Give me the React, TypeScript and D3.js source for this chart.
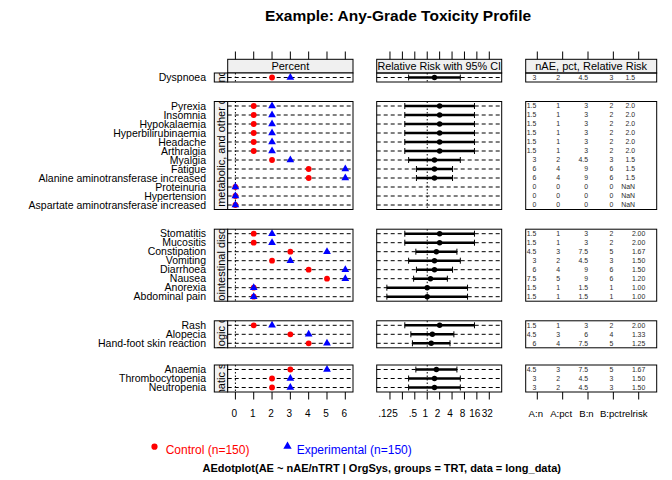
import React from "react";
import * as d3 from "d3";

const chartTitle = "Example: Any-Grade Toxicity Profile";
const caption = "AEdotplot(AE ~ nAE/nTRT | OrgSys, groups = TRT, data = long_data)";
const groupLabels = ["Control (n=150)", "Experimental (n=150)"];
const panelHeaders = ["Percent", "Relative Risk with 95% CI", "nAE, pct, Relative Risk"];

const socNames = [
  "Respiratory, thoracic and mediastinal disorders",
  "General, metabolic, and other disorders",
  "Gastrointestinal disorders",
  "Dermatologic disorders",
  "Blood and lymphatic system disorders",
];

const aeTerms = [
  "Dyspnoea",
  "Pyrexia", "Insomnia", "Hypokalaemia", "Hyperbilirubinaemia", "Headache", "Arthralgia",
  "Myalgia", "Fatigue", "Alanine aminotransferase increased", "Proteinuria", "Hypertension",
  "Aspartate aminotransferase increased",
  "Stomatitis", "Mucositis", "Constipation", "Vomiting", "Diarrhoea", "Nausea", "Anorexia",
  "Abdominal pain",
  "Rash", "Alopecia", "Hand-foot skin reaction",
  "Anaemia", "Thrombocytopenia", "Neutropenia",
];
const aeSoc = [0, 1, 1, 1, 1, 1, 1, 1, 1, 1, 1, 1, 1, 2, 2, 2, 2, 2, 2, 2, 2, 3, 3, 3, 4, 4, 4];

const nA = [3, 1.5, 1.5, 1.5, 1.5, 1.5, 1.5, 3, 6, 6, 0, 0, 0, 1.5, 1.5, 4.5, 3, 6, 7.5, 1.5, 1.5, 1.5, 4.5, 6, 4.5, 3, 3];
const pctA = [2, 1, 1, 1, 1, 1, 1, 2, 4, 4, 0, 0, 0, 1, 1, 3, 2, 4, 5, 1, 1, 1, 3, 4, 3, 2, 2];
const nB = [4.5, 3, 3, 3, 3, 3, 3, 4.5, 9, 9, 0, 0, 0, 3, 3, 7.5, 4.5, 9, 9, 1.5, 1.5, 3, 6, 7.5, 7.5, 4.5, 4.5];
const pctB = [3, 2, 2, 2, 2, 2, 2, 3, 6, 6, 0, 0, 0, 2, 2, 5, 3, 6, 6, 1, 1, 2, 4, 5, 5, 3, 3];
const relRisk = [1.5, 2, 2, 2, 2, 2, 2, 1.5, 1.5, 1.5, NaN, NaN, NaN, 2, 2, 1.667, 1.5, 1.5, 1.2, 1, 1, 2, 1.333, 1.25, 1.667, 1.5, 1.5];
const rrLower = [0.354, 0.286, 0.286, 0.286, 0.286, 0.286, 0.286, 0.354, 0.548, 0.548, NaN, NaN, NaN, 0.286, 0.286, 0.53, 0.354, 0.548, 0.468, 0.105, 0.105, 0.286, 0.401, 0.438, 0.53, 0.354, 0.354];
const rrUpper = [6.35, 14, 14, 14, 14, 14, 14, 6.35, 4.11, 4.11, NaN, NaN, NaN, 14, 14, 5.25, 6.35, 4.11, 3.08, 9.5, 9.5, 14, 4.43, 3.57, 5.25, 6.35, 6.35];

const pctTicks = [0, 1, 2, 3, 4, 5, 6];
const rrTicks = [0.125, 0.25, 0.5, 1, 2, 4, 8, 16, 32];
const rrTickLabels = [".125", "", ".5", "1", "2", "4", "8", "16", "32"];
const tableCols = [1, 2, 3, 4, 5];
const tableColLabels = ["A:n", "A:pct", "B:n", "B:pct", "relrisk"];

const RED = "#ff0000";
const BLUE = "#0000ff";
const STRIP = "#f0f0f0";
const FONT = "'Liberation Sans', Arial, sans-serif";
const NARROW = "'Liberation Sans Narrow', 'Arial Narrow', 'Liberation Sans', Arial, sans-serif";

export default function App() {
  const W = 672, H = 480;
  const pctL = 227.7, pctR = 353;
  const rrL = 376.7, rrR = 501.7;
  const tabL = 525.7, tabR = 656.7;
  const stripL = 214.3;
  const headTop = 59.3, headBot = 73;
  const panelTop = [73, 101.5, 229.2, 320.8, 365];
  const rowH = 9;

  const xPct = d3.scaleLinear().domain([-0.42, 6.42]).range([pctL, pctR]);
  const xRR = d3.scaleLog().base(2).domain([Math.pow(2, -4.07), 64]).range([rrL, rrR]);
  const xTab = d3.scaleLinear().domain([0.542, 5.71]).range([tabL, tabR]);

  const panels = socNames.map((name, s) => {
    const idx = aeTerms.map((_, i) => i).filter((i) => aeSoc[i] === s);
    const top = panelTop[s];
    const bottom = top + idx.length * rowH;
    const y = d3.scalePoint<number>().domain(idx).range([top, bottom]).padding(0.5);
    const twoDec = idx.some((i) => isFinite(relRisk[i]) && Math.abs(relRisk[i] * 10 - Math.round(relRisk[i] * 10)) > 1e-6);
    return { name, s, idx, top, bottom, y, twoDec };
  });
  const lastBottom = panels[panels.length - 1].bottom;

  const tri = d3.symbol().type(d3.symbolTriangle).size(26)();
  const triLeg = d3.symbol().type(d3.symbolTriangle).size(30)();

  const colDx = [-1, -2.5, 0, 0];
  const labDx = [-1.5, -1.5, -1.5, -2.5, -4];

  return (
    <svg width={W} height={H} style={{ position: "absolute", left: 0, top: 0, display: "block", background: "#fff" }} fontFamily={FONT}>
      <defs>
        {panels.map((p) => (
          <clipPath id={`strip${p.s}`} key={p.s}>
            <rect x={stripL} y={p.top} width={pctL - stripL} height={p.bottom - p.top} />
          </clipPath>
        ))}
      </defs>
      <text x={398} y={20.5} textAnchor="middle" fontSize={15.5} fontWeight="bold">{chartTitle}</text>

      {/* header strips */}
      {[[pctL, pctR], [rrL, rrR], [tabL, tabR]].map(([l, r], k) => (
        <g key={`h${k}`}>
          <rect x={l} y={headTop} width={r - l} height={headBot - headTop} fill={STRIP} stroke="#000" strokeWidth={1} />
          <text x={(l + r) / 2} y={headBot - 3} textAnchor="middle" fontSize={k === 1 ? 10.8 : 11}>{panelHeaders[k]}</text>
        </g>
      ))}

      {/* top ticks */}
      {pctTicks.map((t) => (
        <line key={`tp${t}`} x1={xPct(t)} x2={xPct(t)} y1={51.5} y2={headTop} stroke="#000" />
      ))}
      {rrTicks.map((t) => (
        <line key={`tr${t}`} x1={xRR(t)} x2={xRR(t)} y1={51.5} y2={headTop} stroke="#000" />
      ))}
      {tableCols.map((t) => (
        <line key={`tt${t}`} x1={xTab(t)} x2={xTab(t)} y1={51.5} y2={headTop} stroke="#000" />
      ))}

      {panels.map((p) => (
        <g key={`p${p.s}`}>
          {/* left strip */}
          <rect x={stripL} y={p.top} width={pctL - stripL} height={p.bottom - p.top} fill={STRIP} stroke="#000" />
          <g clipPath={`url(#strip${p.s})`}>
            <text transform={`translate(${225},${(p.top + p.bottom) / 2}) rotate(-90)`} textAnchor="middle" fontSize={11}>{p.name}</text>
          </g>

          {/* row labels */}
          {p.idx.map((i) => (
            <text key={`l${i}`} x={206} y={(p.y(i) as number) + 3.7} textAnchor="end" fontSize={10.5}>{aeTerms[i]}</text>
          ))}

          {/* percent panel */}
          <rect x={pctL} y={p.top} width={pctR - pctL} height={p.bottom - p.top} fill="#fff" stroke="none" />
          {p.idx.map((i) => (
            <line key={`d${i}`} x1={pctL} x2={pctR} y1={p.y(i)} y2={p.y(i)} stroke="#000" strokeDasharray="4,3" />
          ))}
          <line x1={xPct(0)} x2={xPct(0)} y1={p.top} y2={p.bottom} stroke="#000" strokeDasharray="1.5,2" />
          {p.idx.map((i) => (
            <circle key={`a${i}`} cx={xPct(pctA[i])} cy={p.y(i)} r={2.9} fill={RED} />
          ))}
          {p.idx.map((i) => (
            <path key={`b${i}`} d={tri || ""} transform={`translate(${xPct(pctB[i])},${p.y(i)})`} fill={BLUE} />
          ))}
          <rect x={pctL} y={p.top} width={pctR - pctL} height={p.bottom - p.top} fill="none" stroke="#000" />

          {/* RR panel */}
          {p.idx.map((i) => (
            <line key={`rd${i}`} x1={rrL} x2={rrR} y1={p.y(i)} y2={p.y(i)} stroke="#000" strokeDasharray="4,3" />
          ))}
          <line x1={xRR(1)} x2={xRR(1)} y1={p.top} y2={p.bottom} stroke="#000" strokeDasharray="1.5,2" />
          {p.idx.filter((i) => isFinite(relRisk[i])).map((i) => {
            const yy = p.y(i) as number;
            return (
              <g key={`ci${i}`}>
                <line x1={xRR(rrLower[i])} x2={xRR(rrUpper[i])} y1={yy} y2={yy} stroke="#000" strokeWidth={2.6} />
                <line x1={xRR(rrLower[i])} x2={xRR(rrLower[i])} y1={yy - 3} y2={yy + 3} stroke="#000" strokeWidth={1} />
                <line x1={xRR(rrUpper[i])} x2={xRR(rrUpper[i])} y1={yy - 3} y2={yy + 3} stroke="#000" strokeWidth={1} />
                <circle cx={xRR(relRisk[i])} cy={yy} r={2.7} fill="#000" />
              </g>
            );
          })}
          <rect x={rrL} y={p.top} width={rrR - rrL} height={p.bottom - p.top} fill="none" stroke="#000" />

          {/* table panel */}
          <rect x={tabL} y={p.top} width={tabR - tabL} height={p.bottom - p.top} fill="none" stroke="#000" />
          {p.idx.map((i) => {
            const yy = (p.y(i) as number) + 2.4;
            const vals = [nA[i], pctA[i], nB[i], pctB[i]];
            const rrText = isNaN(relRisk[i]) ? "NaN" : relRisk[i].toFixed(p.twoDec ? 2 : 1);
            return (
              <g key={`t${i}`} fontFamily={NARROW} fontSize={6.9} fill="#2b2b2b">
                {vals.map((v, c) => (
                  <text key={c} x={xTab(tableCols[c]) + colDx[c]} y={yy} textAnchor="end">{String(v)}</text>
                ))}
                <text x={xTab(tableCols[4]) + (p.twoDec ? 6.6 : -3.7)} y={yy} textAnchor="end">{rrText}</text>
              </g>
            );
          })}
        </g>
      ))}

      {/* bottom axes */}
      {pctTicks.map((t) => (
        <g key={`bp${t}`}>
          <line x1={xPct(t)} x2={xPct(t)} y1={lastBottom} y2={lastBottom + 7.5} stroke="#000" />
          <text x={xPct(t) - 1} y={417} textAnchor="middle" fontSize={10}>{String(t)}</text>
        </g>
      ))}
      {rrTicks.map((t, k) => (
        <g key={`br${t}`}>
          <line x1={xRR(t)} x2={xRR(t)} y1={lastBottom} y2={lastBottom + 7.5} stroke="#000" />
          <text x={xRR(t) - 2} y={417} textAnchor="middle" fontSize={10}>{rrTickLabels[k]}</text>
        </g>
      ))}
      {tableCols.map((t, k) => (
        <g key={`bt${t}`}>
          <line x1={xTab(t)} x2={xTab(t)} y1={lastBottom} y2={lastBottom + 7.5} stroke="#000" />
          <text x={xTab(t) + labDx[k]} y={417} textAnchor="middle" fontSize={9.6}>{tableColLabels[k]}</text>
        </g>
      ))}

      {/* legend */}
      <circle cx={154.5} cy={446.7} r={3.1} fill={RED} />
      <text x={165.7} y={453.5} fontSize={12} fill={RED}>{groupLabels[0]}</text>
      <path d={triLeg || ""} transform={`translate(287.5,446.3)`} fill={BLUE} />
      <text x={296.7} y={453.5} fontSize={12} fill={BLUE}>{groupLabels[1]}</text>

      <text x={381.7} y={472} textAnchor="middle" fontSize={11} fontWeight="bold">{caption}</text>
    </svg>
  );
}
